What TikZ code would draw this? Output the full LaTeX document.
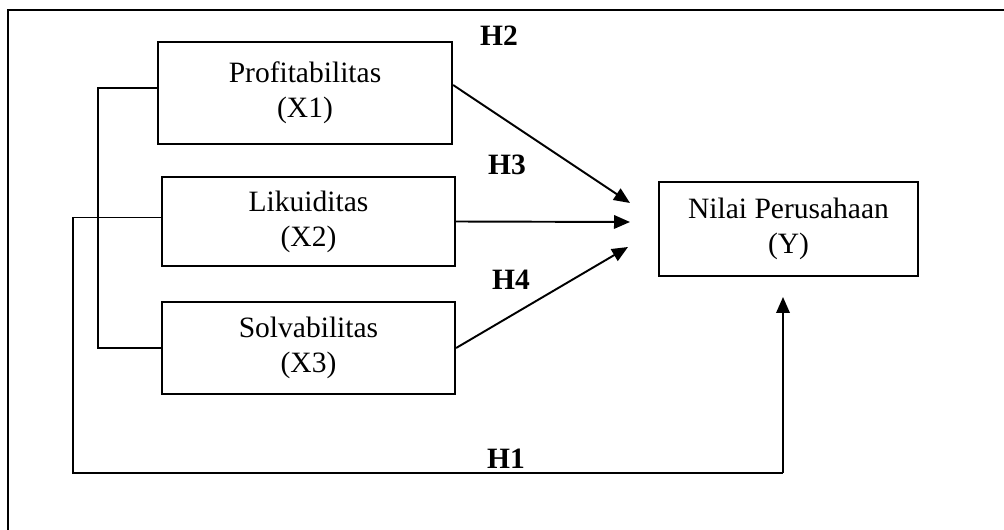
\documentclass[tikz,border=0pt]{standalone}
\usepackage{fontspec}
\setmainfont{Liberation Serif}
\usetikzlibrary{arrows.meta,calc}

\tikzset{
    varbox/.style = {draw, line width = 1.3pt, align = center, inner sep = 0pt,
        font = \fontsize{16.8}{19.9}\selectfont},
    hlabel/.style = {font = \fontsize{16.8}{19.9}\selectfont\bfseries, inner sep = 0pt},
    link/.style = {line width = 0.6pt},
    effect/.style = {line width = 1.1pt, -{Triangle[length = 0.32cm, width = 0.27cm]}}
}

\begin{document}
\begin{tikzpicture}[x = 0.02cm, y = -0.02cm]
    \useasboundingbox (0, 0) rectangle (1004, 530);
    % frame (only top and left edges are shown)
    \draw[line width = 1.4pt] (8, 535) -- (8, 10) -- (1010, 10);

    % variables
    \node[varbox, minimum width = 5.88cm, minimum height = 2.04cm] (X1) at (305, 93)
        {Profitabilitas\\(X1)};
    \node[varbox, minimum width = 5.86cm, minimum height = 1.78cm] (X2) at (308.5, 221.5)
        {Likuiditas\\(X2)};
    \node[varbox, minimum width = 5.86cm, minimum height = 1.84cm] (X3) at (308.5, 348)
        {Solvabilitas\\(X3)};
    \node[varbox, minimum width = 5.18cm, minimum height = 1.88cm] (Y) at (788.5, 229)
        {Nilai Perusahaan\\(Y)};

    % arrow ends
    \coordinate (tip2) at (630, 203);
    \coordinate (tip3) at (630, 222);
    \coordinate (tip4) at (628, 247);
    \coordinate (tip1) at (783, 297);
    \coordinate (bend1) at (783, 473);

    % partial effects
    \draw[effect] ($(X1.east) + (0, -8)$) -- (tip2);
    \draw[effect] (X2.east) -- (tip3);
    \draw[effect] (X3.east) -- (tip4);

    % joint effect
    \draw[link] ($(X1.west) + (0, -5)$) -| (98, 348) -- (X3.west);
    \draw[link] ($(X2.west) + (0, -4)$) -| (73, 473) -- (bend1);
    \draw[effect] (bend1) -- (tip1);

    % hypotheses
    \node[hlabel] (h2) at (499, 36) {H2};
    \node[hlabel] (h3) at (507, 165) {H3};
    \node[hlabel] (h4) at (511, 280) {H4};
    \node[hlabel] (h1) at (506, 459) {H1};
\end{tikzpicture}
\end{document}
